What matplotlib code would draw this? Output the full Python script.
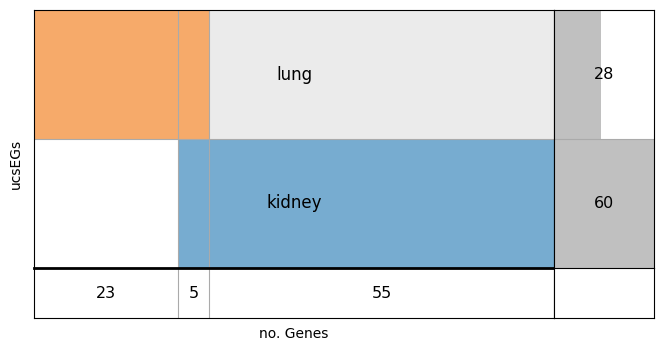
import matplotlib
matplotlib.use("Agg")
import matplotlib.pyplot as plt
import numpy as np

sets = ["lung", "kidney"]
set_sizes = [28, 60]
intersection_counts = [23, 5, 55]
membership = {"lung": [1, 1, 0], "kidney": [0, 1, 1]}
set_colors = {"lung": "#f6aa6a", "kidney": "#77acd0"}
nonmember_colors = {"lung": "#ebebeb", "kidney": "#ffffff"}

W, H = 664, 352
fig = plt.figure(figsize=(W / 100, H / 100), dpi=100)

def ax_px(x0, y0, x1, y1):
    return fig.add_axes([x0 / W, 1 - y1 / H, (x1 - x0) / W, (y1 - y0) / H])

ax_main = ax_px(34, 10, 554, 268)
ax_bot = ax_px(34, 268, 554, 318)
ax_right = ax_px(554, 10, 654, 268)
ax_corner = ax_px(554, 268, 654, 318)

edges = np.concatenate([[0], np.cumsum(intersection_counts)])
total = edges[-1]
grid_c = "#aaaaaa"

# main matrix
for r, s in enumerate(sets):
    ybot = len(sets) - 1 - r
    for j, cnt in enumerate(intersection_counts):
        col = set_colors[s] if membership[s][j] else nonmember_colors[s]
        ax_main.barh(ybot + 0.5, cnt, left=edges[j], height=1.0, color=col, linewidth=0)
    ax_main.text(total / 2, ybot + 0.5, s, ha="center", va="center", fontsize=12)
for e in edges[1:-1]:
    ax_main.axvline(e, color=grid_c, lw=0.8)
for k in range(1, len(sets)):
    ax_main.axhline(k, color=grid_c, lw=0.8)
ax_main.set_xlim(0, total)
ax_main.set_ylim(0, len(sets))
ax_main.set_xticks([])
ax_main.set_yticks([])
ax_main.spines["bottom"].set_visible(False)

# bottom counts
for j, cnt in enumerate(intersection_counts):
    ax_bot.text((edges[j] + edges[j + 1]) / 2, 0.5, str(cnt), ha="center", va="center", fontsize=11.5)
for e in edges[1:-1]:
    ax_bot.axvline(e, color=grid_c, lw=0.8)
ax_bot.set_xlim(0, total)
ax_bot.set_ylim(0, 1)
ax_bot.set_xticks([])
ax_bot.set_yticks([])
ax_bot.spines["top"].set_linewidth(2)

# right set sizes
for r, s in enumerate(sets):
    ybot = len(sets) - 1 - r
    ax_right.barh(ybot + 0.5, set_sizes[r], height=1.0, color="#c0c0c0", linewidth=0)
    ax_right.text(max(set_sizes) / 2, ybot + 0.5, str(set_sizes[r]), ha="center", va="center", fontsize=11.5)
for k in range(1, len(sets)):
    ax_right.axhline(k, color=grid_c, lw=0.8)
ax_right.set_xlim(0, max(set_sizes))
ax_right.set_ylim(0, len(sets))
ax_right.set_xticks([])
ax_right.set_yticks([])
ax_right.spines["bottom"].set_visible(False)

ax_corner.set_xticks([])
ax_corner.set_yticks([])

fig.text(16 / W, 1 - 164 / H, "ucsEGs", rotation=90, ha="center", va="center", fontsize=10)
fig.text(294 / W, 1 - 334 / H, "no. Genes", ha="center", va="center", fontsize=10)

fig.savefig("out.png", dpi=100)
